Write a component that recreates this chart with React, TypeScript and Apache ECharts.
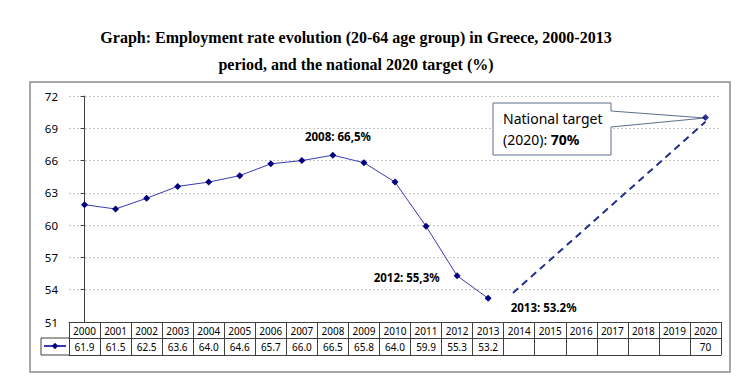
import React, { useEffect, useRef } from "react";
import * as echarts from "echarts";

const years = [
  "2000", "2001", "2002", "2003", "2004", "2005", "2006", "2007", "2008", "2009", "2010",
  "2011", "2012", "2013", "2014", "2015", "2016", "2017", "2018", "2019", "2020",
];
const employmentRate = [61.9, 61.5, 62.5, 63.6, 64.0, 64.6, 65.7, 66.0, 66.5, 65.8, 64.0, 59.9, 55.3, 53.2];
const targetYear = "2020";
const targetValue = 70;
// dashed projection line (x = category index, y = rate)
const projection = [
  [13.8, 53.7],
  [20, 69.6],
];
const pointNotes = [
  { year: "2008", text: "2008: 66,5%" },
  { year: "2012", text: "2012: 55,3%" },
  { year: "2013", text: "2013: 53.2%" },
];
const yTicks = { min: 51, max: 72, interval: 3 };
const titleLines = [
  "Graph: Employment rate evolution (20-64 age group) in Greece, 2000-2013",
  "period, and the national 2020 target (%)",
];
const calloutLines = ["National target", "(2020): {b|70%}"];

const SANS = "'Noto Sans', 'Open Sans', sans-serif";
const SERIF = "'Liberation Serif', 'DejaVu Serif', serif";
const TABLE = "#404040";

export default function App() {
  const ref = useRef<HTMLDivElement>(null);

  useEffect(() => {
    if (!ref.current) return;
    const chart = echarts.init(ref.current, undefined, { renderer: "svg" });

    const valueLabels = years.map((y, i) => {
      if (i < employmentRate.length) return employmentRate[i].toFixed(1);
      if (y === targetYear) return String(targetValue);
      return "";
    });

    const noteLabel: Record<string, any> = {
      "2008": { show: true, position: "top", distance: 9, offset: [5, 0] },
      "2012": { show: true, position: "left", distance: 14, offset: [0, 2] },
      "2013": { show: true, position: "right", distance: 19, offset: [0, 9] },
    };

    const lineData = employmentRate.map((v, i) => {
      const note = pointNotes.find((n) => n.year === years[i]);
      if (!note) return v;
      return {
        value: v,
        label: {
          ...noteLabel[note.year],
          formatter: note.text,
          fontFamily: SANS,
          fontWeight: "bold",
          fontSize: 11.5,
          color: "#000",
        },
      };
    });

    const option: any = {
      animation: false,
      backgroundColor: "#fff",
      grid: { left: 69, right: 29, top: 96, bottom: 65, containLabel: false },
      legend: {
        show: true,
        data: ["Employment rate"],
        left: 43,
        top: 342,
        itemWidth: 22,
        itemHeight: 8,
        itemGap: 0,
        padding: 0,
        formatter: () => "",
        textStyle: { fontSize: 1 },
        selectedMode: false,
      },
      xAxis: [
        {
          type: "category",
          data: years,
          position: "bottom",
          boundaryGap: true,
          axisLine: { show: true, lineStyle: { color: TABLE, width: 1 } },
          axisTick: { show: true, interval: 0, length: 16, lineStyle: { color: TABLE } },
          axisLabel: {
            interval: 0,
            margin: 3.5,
            fontSize: 10,
            fontFamily: SANS,
            color: "#000",
          },
        },
        {
          type: "category",
          data: years,
          position: "bottom",
          offset: 16,
          boundaryGap: true,
          axisLine: { show: true, lineStyle: { color: TABLE, width: 1 } },
          axisTick: { show: true, interval: 0, length: 17, lineStyle: { color: TABLE } },
          axisLabel: {
            interval: 0,
            margin: 3.5,
            fontSize: 10,
            fontFamily: SANS,
            color: "#000",
            formatter: (_v: string, i: number) => valueLabels[i],
          },
        },
        {
          type: "category",
          data: years,
          position: "bottom",
          offset: 33,
          axisLine: { show: true, lineStyle: { color: TABLE, width: 1 } },
          axisTick: { show: false },
          axisLabel: { show: false },
        },
        {
          type: "value",
          min: -0.5,
          max: 20.5,
          show: false,
        },
      ],
      yAxis: {
        type: "value",
        min: yTicks.min,
        max: yTicks.max,
        interval: yTicks.interval,
        axisLine: { show: true, lineStyle: { color: TABLE, width: 1 } },
        axisTick: { show: true, length: 4, lineStyle: { color: TABLE } },
        axisLabel: { fontSize: 11.5, fontFamily: SANS, color: "#000", margin: 11 },
        splitLine: { show: true, lineStyle: { color: "#c8c8c8", type: [2, 2], width: 1 } },
      },
      series: [
        {
          name: "Employment rate",
          type: "line",
          xAxisIndex: 0,
          data: lineData,
          symbol: "diamond",
          symbolSize: 7,
          itemStyle: { color: "#000080" },
          lineStyle: { color: "#3a3ab5", width: 1 },
          z: 5,
        },
        {
          name: "Target",
          type: "scatter",
          xAxisIndex: 0,
          data: [[targetYear, targetValue]],
          symbol: "diamond",
          symbolSize: 7,
          itemStyle: { color: "#000080" },
          z: 120,
        },
        {
          name: "Projection",
          type: "line",
          xAxisIndex: 3,
          data: projection,
          symbol: "none",
          lineStyle: { color: "#1f2e8a", width: 2, type: [7, 5] },
          z: 4,
        },
      ],
      graphic: [
        // outer frame
        {
          type: "rect",
          shape: { x: 30, y: 82, width: 700, height: 290 },
          style: { fill: "none", stroke: "#8a8a8a", lineWidth: 1.5 },
          silent: true,
        },
        // title
        ...titleLines.map((t, i) => ({
          type: "text",
          x: 356,
          y: 37 + i * 27,
          style: {
            text: t,
            align: "center",
            verticalAlign: "middle",
            fontFamily: SERIF,
            fontWeight: "bold",
            fontSize: 16,
            fill: "#000",
          },
        })),
        // legend cell of the data table
        {
          type: "polyline",
          shape: { points: [[69, 338], [41, 338], [41, 355], [69, 355]] },
          style: { fill: "none", stroke: TABLE, lineWidth: 1 },
          silent: true,
        },
        // callout for the national target
        {
          type: "polygon",
          z: 100,
          shape: {
            points: [
              [493, 103],
              [611, 103],
              [611, 111],
              [705, 118],
              [611, 127],
              [611, 155],
              [493, 155],
            ],
          },
          style: { fill: "#fff", stroke: "#5e6f8e", lineWidth: 1 },
        },
        {
          type: "text",
          z: 101,
          x: 503,
          y: 118,
          style: {
            text: calloutLines[0],
            verticalAlign: "middle",
            fontFamily: SANS,
            fontSize: 14,
            fill: "#000",
          },
        },
        {
          type: "text",
          z: 101,
          x: 503,
          y: 139,
          style: {
            text: calloutLines[1],
            verticalAlign: "middle",
            fontFamily: SANS,
            fontSize: 14,
            fill: "#000",
            rich: { b: { fontFamily: SANS, fontSize: 14, fontWeight: "bold", fill: "#000" } },
          },
        },
      ],
    };

    chart.setOption(option);
    return () => chart.dispose();
  }, []);

  return (
    <div
      ref={ref}
      style={{ position: "fixed", left: 0, top: 0, width: 750, height: 387, background: "#fff" }}
    />
  );
}
